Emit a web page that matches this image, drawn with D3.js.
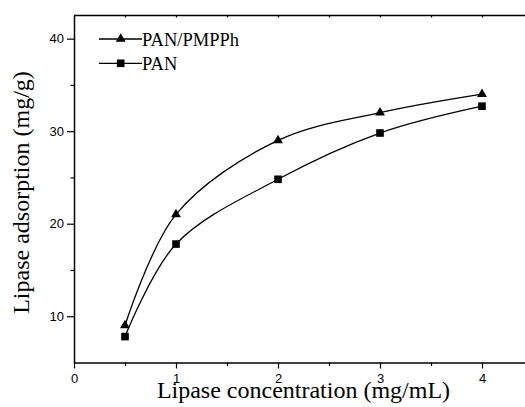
<!DOCTYPE html>
<html>
<head>
<meta charset="utf-8">
<script src="https://cdn.jsdelivr.net/npm/d3@7"></script>
<style>
  body { margin: 0; background: #fff; }
  svg { display: block; }
  .tick text { font-family: "Liberation Sans", Arial, sans-serif; font-size: 13px; fill: #000; }
  .lbl { font-family: "Liberation Serif", "Times New Roman", serif; fill: #000; }
</style>
</head>
<body>
<div id="chart"></div>
<script>
var conc = [0.5, 1, 2, 3, 4];
var panPmpph = [9.0, 21.0, 29.0, 32.0, 34.0];
var pan = [7.8, 17.8, 24.8, 29.8, 32.7];
var xTicks = [0, 1, 2, 3, 4];
var yTicks = [10, 20, 30, 40];

var W = 525, H = 407;
// plot box (right side runs off the picture, as in the original)
var pLeft = 74, pTop = 15.5, pRight = 533, pBottom = 362.5;

var svg = d3.select("#chart").append("svg").attr("width", W).attr("height", H);

var x = d3.scaleLinear().domain([0, 4.5]).range([pLeft, pRight]);
var y = d3.scaleLinear().domain([5, 42.5]).range([pBottom, pTop]);

// minor ticks
var xMinor = d3.range(0.5, 4.6, 1);
var yMinor = d3.range(15, 41, 10);

svg.append("g").attr("transform", "translate(0," + pBottom + ")")
    .call(d3.axisBottom(x).tickValues(xMinor).tickSize(3.5).tickFormat(""))
    .call(function(g){ g.select(".domain").remove(); });
svg.append("g").attr("transform", "translate(" + pLeft + ",0)")
    .call(d3.axisLeft(y).tickValues(yMinor).tickSize(3.5).tickFormat(""))
    .call(function(g){ g.select(".domain").remove(); });
// top ticks (inside)
svg.append("g").attr("transform", "translate(0," + pTop + ")")
    .call(d3.axisTop(x).tickValues(xTicks.concat(xMinor)).tickSize(-2).tickFormat(""))
    .call(function(g){ g.select(".domain").remove(); });

svg.append("g").attr("transform", "translate(0," + pBottom + ")")
    .call(d3.axisBottom(x).tickValues(xTicks).tickSize(6).tickPadding(5).tickSizeOuter(0).tickFormat(d3.format("d")));
svg.append("g").attr("transform", "translate(" + pLeft + ",0)")
    .call(d3.axisLeft(y).tickValues(yTicks).tickSize(7).tickPadding(3).tickSizeOuter(0).tickFormat(d3.format("d")));

svg.selectAll(".domain").attr("stroke-width", 1.5);
svg.selectAll(".tick line").attr("stroke-width", 1.2);

// top border
svg.append("line").attr("x1", pLeft).attr("x2", pRight).attr("y1", pTop).attr("y2", pTop)
    .attr("stroke", "#000").attr("stroke-width", 1.5);

var line = d3.line().curve(d3.curveCatmullRom.alpha(0.5))
    .x(function(d){ return x(d[0]); }).y(function(d){ return y(d[1]); });

var series = [
  { name: "PAN/PMPPh", vals: panPmpph, sym: d3.symbolTriangle, size: 42 },
  { name: "PAN", vals: pan, sym: d3.symbolSquare, size: 58 }
];

series.forEach(function(s, k){
  var pts = conc.map(function(c, i){ return [c, s.vals[i]]; });
  svg.append("path").datum(pts).attr("d", line)
      .attr("fill", "none").attr("stroke", "#000").attr("stroke-width", 1.3);
  svg.selectAll(".m" + k).data(pts).enter().append("path")
      .attr("transform", function(d){ return "translate(" + x(d[0]) + "," + y(d[1]) + ")"; })
      .attr("d", d3.symbol().type(s.sym).size(s.size))
      .attr("fill", "#000");

  // legend
  var ly = 39 + k * 24.3;
  svg.append("line").attr("x1", 99).attr("x2", 142).attr("y1", ly).attr("y2", ly)
      .attr("stroke", "#000").attr("stroke-width", 1.3);
  svg.append("path").attr("transform", "translate(120.7," + ly + ")")
      .attr("d", d3.symbol().type(s.sym).size(s.size)).attr("fill", "#000");
  svg.append("text").attr("class", "lbl").attr("x", 142).attr("y", ly + 6.5)
      .attr("font-size", 18.5).text(s.name);
});

svg.append("text").attr("class", "lbl").attr("x", 303.5).attr("y", 398)
    .attr("text-anchor", "middle").attr("font-size", 24).text("Lipase concentration (mg/mL)");
svg.append("text").attr("class", "lbl")
    .attr("transform", "translate(29,192.5) rotate(-90)")
    .attr("text-anchor", "middle").attr("font-size", 24).text("Lipase adsorption (mg/g)");
</script>
</body>
</html>
